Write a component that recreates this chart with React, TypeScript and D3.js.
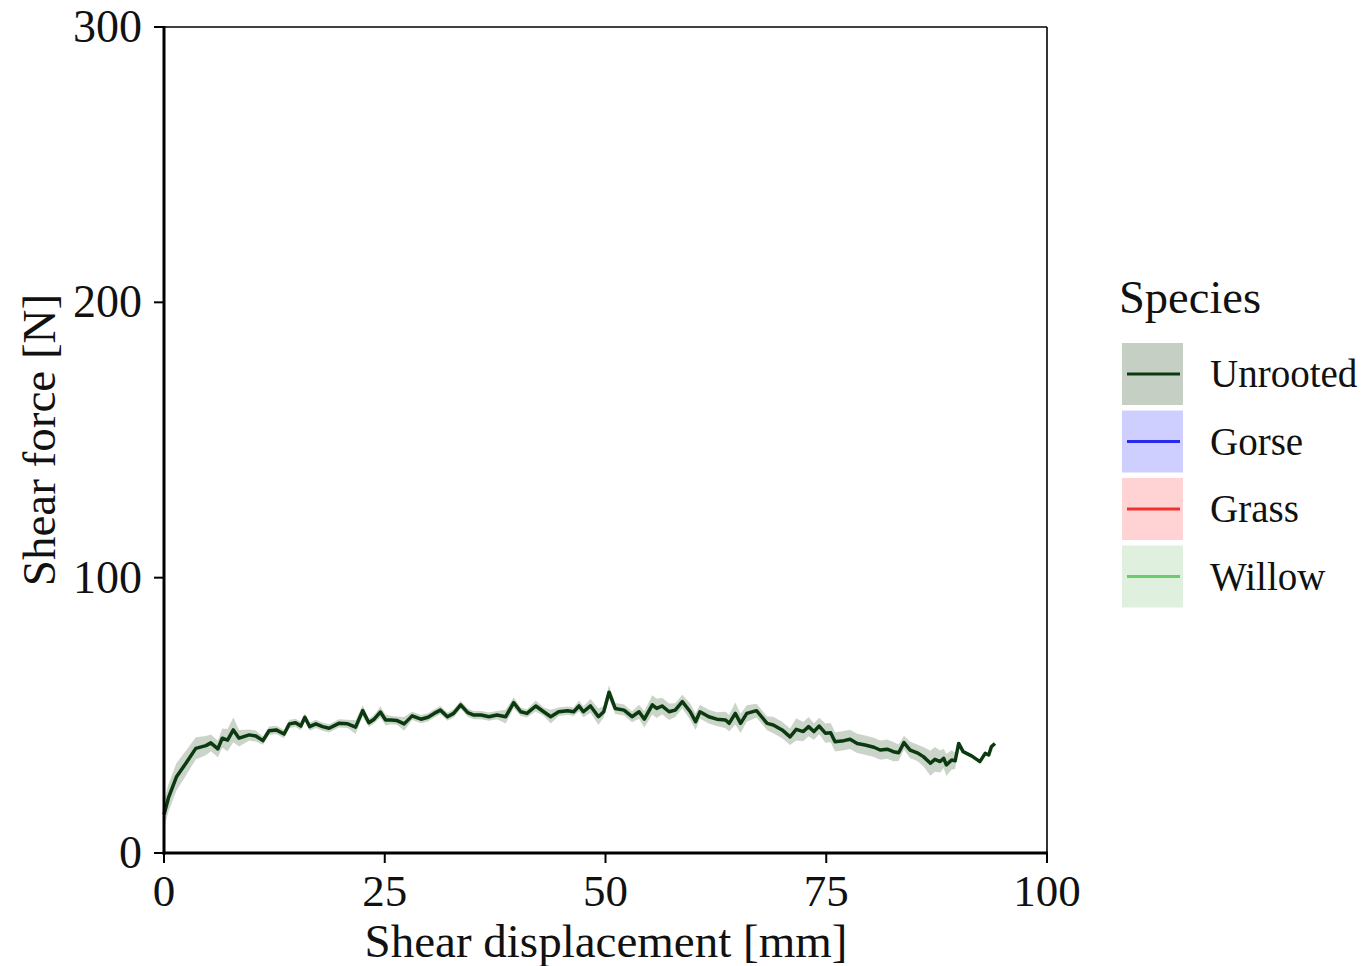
import React from "react";
import * as d3 from "d3";

const displacement = [0, 0.5, 1.4, 2.5, 3.6, 4.75, 5.3, 6.1, 6.6, 7.2, 7.85, 8.5, 9.65, 10.4, 11.2, 11.9, 12.7, 13.6, 14.2, 14.9, 15.5, 15.95, 16.5, 17.2, 17.95, 18.7, 19.8, 20.8, 21.7, 22.5, 23.2, 23.8, 24.5, 25.1, 25.7, 26.4, 27.2, 28.1, 29.1, 29.9, 30.6, 31.3, 32.1, 32.8, 33.6, 34.4, 35.1, 35.9, 36.8, 37.7, 38.7, 39.6, 40.4, 41.1, 42.1, 43.0, 43.8, 44.7, 45.7, 46.4, 47.0, 47.5, 48.3, 49.2, 49.8, 50.4, 51.1, 52.1, 53.0, 53.8, 54.4, 55.3, 55.8, 56.4, 57.2, 57.9, 58.7, 59.6, 60.2, 60.7, 61.7, 62.6, 63.6, 64.0, 64.7, 65.3, 66.0, 67.1, 68.3, 69.0, 70.0, 70.9, 71.6, 72.4, 73.0, 73.6, 74.2, 74.9, 75.5, 76.0, 77.0, 77.7, 78.5, 79.4, 80.4, 81.1, 81.9, 82.6, 83.2, 83.8, 84.5, 85.3, 86.0, 86.8, 87.3, 87.9, 88.3, 88.6, 89.2, 89.6, 90.0, 90.5, 91.5, 92.4, 93.0, 93.4, 93.7, 94.1];

const unrootedForce = [14, 20, 27.6, 32.7, 38, 39, 40, 37.8, 41.7, 41, 44.7, 41.7, 42.9, 42.5, 40.8, 44.4, 44.7, 43.2, 46.9, 47.3, 46.1, 49.3, 45.9, 46.9, 45.9, 45.3, 47.1, 46.9, 45.7, 51.7, 47.3, 48.6, 51.2, 48.3, 48.3, 48.1, 46.9, 49.8, 48.6, 49.3, 50.7, 51.9, 49.5, 50.7, 53.8, 51, 50.1, 50.1, 49.5, 50.1, 49.5, 54.6, 51.3, 50.7, 53.4, 51.3, 49.5, 51.3, 51.7, 51.3, 53.4, 51.3, 53.4, 49.5, 51.3, 58.4, 52.5, 51.9, 49.5, 51.3, 48.6, 53.8, 52.5, 53.4, 51.3, 51.9, 55, 51.3, 47.7, 51.3, 49.5, 48.6, 48.3, 47.1, 50.7, 47.1, 50.7, 51.7, 47.1, 46.5, 44.7, 42.2, 44.9, 44.1, 45.9, 44.1, 46.1, 43.5, 43.7, 40.4, 40.8, 41.3, 39.8, 39.2, 38.4, 37.4, 37.7, 36.8, 36.4, 40.1, 37.4, 36.4, 35, 32.6, 34, 33.2, 34.4, 32, 33.8, 33.5, 39.8, 36.8, 35.2, 33.2, 36.2, 35.6, 38.6, 39.8];

const unrootedSpread = [5, 5, 5, 4.5, 4, 3.5, 3, 3, 3.5, 4, 4.5, 3, 2, 2, 1.5, 1.5, 1.5, 1.5, 1.5, 1.5, 1.5, 1.5, 1.5, 1.5, 1.5, 1.5, 1.5, 1.5, 2.5, 2, 1.5, 1.5, 2, 2, 1.5, 1.5, 2.5, 1.5, 1.5, 1.5, 1.5, 1.5, 1.5, 1.5, 1.5, 1.5, 1.5, 1.5, 1.5, 1.5, 2.5, 2, 1.5, 1.5, 2, 1.5, 2.5, 1.5, 1.5, 1.5, 2, 2, 2.5, 3, 2, 2.5, 2, 2, 2, 2.5, 3, 3.5, 3.5, 3, 3, 2.5, 2.5, 3, 3, 2.5, 2.5, 2.5, 3, 3, 4, 3.5, 3, 2.5, 2.5, 3, 3, 3, 4, 3.5, 3.5, 3, 3, 3.5, 3.5, 3.5, 3.5, 3.5, 3.5, 3.5, 3.5, 3.5, 3.5, 3.5, 3, 2.5, 3, 3, 3.5, 4.5, 4.5, 4, 3.5, 4, 3.5, 3, 0, 0, 0, 0, 0, 0, 0, 0];

const xTicks = [0, 25, 50, 75, 100];
const yTicks = [0, 100, 200, 300];

const legendSpecies = ["Unrooted", "Gorse", "Grass", "Willow"];
const legendLineColors = ["#0b3a10", "#2a2aee", "#ee3030", "#6ccc6c"];
const legendPatchColors = ["#c6cfc4", "#cfcfff", "#ffd3d3", "#dff0df"];

const FONT = "'Liberation Serif', 'Times New Roman', serif";

export default function App() {
  const left = 164, right = 1047, top = 27, bottom = 853;
  const x = d3.scaleLinear().domain([0, 100]).range([left, right]);
  const y = d3.scaleLinear().domain([0, 300]).range([bottom, top]);

  const pts = displacement.map((d, i) => ({ d, v: unrootedForce[i], s: unrootedSpread[i] }));
  const bandPts = pts.filter((p) => p.s > 0 || p.d <= 90.5);
  const area = d3
    .area<{ d: number; v: number; s: number }>()
    .x((p) => x(p.d))
    .y0((p) => y(p.v - p.s))
    .y1((p) => y(p.v + p.s));
  const line = d3
    .line<{ d: number; v: number }>()
    .x((p) => x(p.d))
    .y((p) => y(p.v));

  const legX = 1122, legW = 61, legH = 62, legTop = 343, legGap = 67.5;

  return (
    <svg
      width={1370}
      height={966}
      style={{ position: "absolute", left: 0, top: 0, background: "#fff" }}
      fontFamily={FONT}
    >
      <rect x={0} y={0} width={1370} height={966} fill="#fff" />
      <path d={area(bandPts) || ""} fill="#c8d2c5" opacity={0.95} />
      <path d={line(pts) || ""} fill="none" stroke="#0b3a10" strokeWidth={3.5} strokeLinejoin="round" />

      {/* spines */}
      <line x1={right} x2={right} y1={top} y2={bottom} stroke="#000" strokeWidth={1.6} />
      <line x1={left} x2={right} y1={top} y2={top} stroke="#000" strokeWidth={1.6} />
      <line x1={left} x2={left} y1={top - 1} y2={bottom + 1.5} stroke="#000" strokeWidth={3} />
      <line x1={left - 1.5} x2={right + 0.8} y1={bottom} y2={bottom} stroke="#000" strokeWidth={3} />

      {/* x ticks */}
      {xTicks.map((t) => (
        <g key={"x" + t}>
          <line x1={x(t)} x2={x(t)} y1={bottom} y2={bottom + 10} stroke="#000" strokeWidth={2} />
          <text x={x(t)} y={906} textAnchor="middle" fontSize={45} fill="#111">
            {t}
          </text>
        </g>
      ))}
      {/* y ticks */}
      {yTicks.map((t) => (
        <g key={"y" + t}>
          <line x1={left - 10} x2={left} y1={y(t)} y2={y(t)} stroke="#000" strokeWidth={2} />
          <text x={142} y={y(t) + 15} textAnchor="end" fontSize={46} fill="#111">
            {t}
          </text>
        </g>
      ))}

      <text x={606} y={957} textAnchor="middle" fontSize={47} fill="#111">
        Shear displacement [mm]
      </text>
      <text
        transform={`translate(55, 440) rotate(-90)`}
        textAnchor="middle"
        fontSize={47}
        fill="#111"
      >
        Shear force [N]
      </text>

      {/* legend */}
      <text x={1119} y={313} fontSize={46.5} fill="#111">
        Species
      </text>
      {legendSpecies.map((s, i) => {
        const yy = legTop + i * legGap;
        return (
          <g key={s}>
            <rect x={legX} y={yy} width={legW} height={legH} fill={legendPatchColors[i]} />
            <line
              x1={legX + 5}
              x2={legX + legW - 3}
              y1={yy + legH / 2}
              y2={yy + legH / 2}
              stroke={legendLineColors[i]}
              strokeWidth={3}
            />
            <text x={1210} y={yy + legH / 2 + 13} fontSize={39} fill="#111">
              {s}
            </text>
          </g>
        );
      })}
    </svg>
  );
}
